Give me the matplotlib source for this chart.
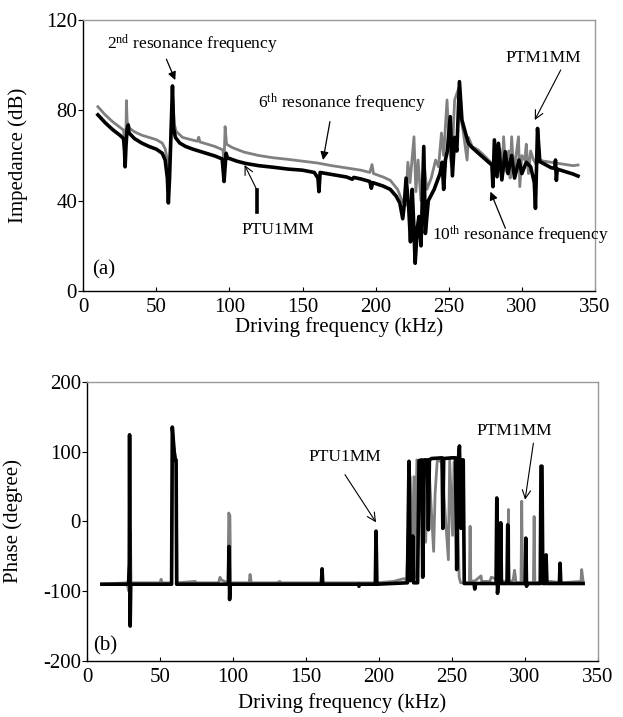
import os
os.environ.setdefault('MPLBACKEND', 'Agg')
import matplotlib.pyplot as plt
from matplotlib import rcParams

# Colours
black = "#000000"
grey = "#808080"
frame_grey = "#999999"

# Panel (a): impedance, black curve
imp_blk_f = [10, 15, 20, 25, 27.5, 28.2, 28.6, 29.2, 30.0, 30.7, 31.3, 35, 40, 45, 50, 54, 56, 57.5,
             58.2, 59, 60, 61, 61.8, 63, 66, 70, 75, 80, 85, 90, 95, 96.3, 97, 97.7, 98.5, 105, 111,
             120, 130, 140, 150, 158, 160.5, 161.2, 162, 170, 180, 184, 185, 190, 196, 197, 198, 205,
             210, 214, 216.5, 218.5, 219.5, 220.8, 222.5, 223.8, 225, 226, 227, 228.5, 229.6, 231,
             232.9, 234, 236, 240, 244, 245.5, 246.5, 247.7, 249, 251, 252.5, 254, 255.5, 257.3, 259,
             263.4, 266, 270.3, 278.2, 279.5, 280.2, 281.2, 283, 284, 286.3, 288.6, 290.5, 293, 295,
             298, 300, 303, 306, 308.5, 309.3, 310.7, 312.3, 316, 320, 322.5, 323, 323.6, 324.2, 330,
             335, 338.4]
imp_blk_db = [78, 74.5, 71.5, 69, 67.5, 62, 55, 64, 72, 73.5, 70, 67.5, 65.5, 64, 62.8, 61, 58, 50,
              39, 50, 70, 90.8, 72, 68, 65.5, 64, 62.8, 61.8, 60.8, 59.8, 58.5, 48.5, 55, 61, 59, 57.5,
              56.5, 55.5, 54.8, 54, 53.5, 52.5, 50, 44, 52.5, 51.6, 50.5, 49.5, 50.3, 49.6, 48.5, 45.5,
              48, 46.5, 45, 42, 39, 32, 38, 50, 38, 21.8, 45, 30, 12.3, 28, 33, 20, 64, 25.5, 40, 45,
              52, 57, 45, 58, 62, 77.2, 51, 68, 62, 92.7, 75.7, 65.4, 63.5, 61, 56.5, 55.8, 46.2, 66.9,
              50.6, 65.4, 49.2, 61.7, 52, 60, 50, 58, 52, 57, 55, 48, 36.6, 72, 57.3, 56, 54.6, 54.3,
              58, 49, 54, 52.8, 51.8, 50.9]

# Panel (a): impedance, grey curve
imp_gry_f = [10, 15, 20, 25, 27.5, 28, 28.6, 29.2, 29.5, 30, 31.8, 35, 40, 45, 50, 54, 56, 57.5, 58.5,
             59.5, 60.5, 61.3, 62.2, 63.6, 68, 75, 78, 79, 79.8, 85, 90, 95.5, 96.3, 97, 98, 102, 110,
             120, 130, 140, 150, 160, 170, 180, 190, 196, 197.5, 198.5, 205, 210, 215, 218, 220.5, 222,
             223.5, 226.2, 227.5, 229, 231, 233, 235, 238, 241, 243, 245, 246.5, 248.8, 250.5, 252,
             254, 256.9, 258.5, 260, 262.5, 263.5, 266, 270, 275, 278, 280, 282, 283.5, 285, 286.5,
             287.5, 289, 291, 292, 293, 294.5, 296, 297.7, 298.6, 300, 302, 303, 304.5, 306, 308, 310,
             312, 315, 320, 325, 330, 335, 338.4]
imp_gry_db = [81.6, 78, 75, 72.5, 71.3, 68, 64, 70, 84.3, 75, 72, 70.5, 69, 68, 67, 65.5, 63, 58, 55,
              62, 78, 85, 74, 70.6, 68, 66.8, 66.3, 68.1, 66, 65, 64, 62.5, 57, 72.8, 65, 63.5, 61.5,
              60, 59, 58.3, 57.5, 56.7, 55.5, 54.5, 53.5, 52.5, 56, 52, 50.5, 49, 45, 40, 38, 57, 48,
              68.3, 44, 58, 40, 57, 45, 50, 58, 55, 70, 60, 84.6, 62, 55, 84.6, 90, 76, 70, 58, 68,
              64, 62.5, 59.5, 57.5, 56, 62, 52, 63, 50, 68.3, 53, 62, 50, 68.3, 52, 60, 68.3, 46.2,
              60, 58, 65, 52, 62, 58, 56, 58, 57.5, 57, 56.5, 56, 55.5, 55.8]

# Panel (b): phase, black curve
ph_blk_f = [10, 28.3, 28.8, 29.0, 29.4, 29.8, 57.8, 58.3, 59.6, 60.4, 60.9, 61.3, 96.8, 97.2, 97.6,
            98.0, 160.5, 161, 161.5, 186, 186.3, 186.6, 197.5, 198, 198.6, 219.5, 220.6, 221.5, 222.5,
            223.2, 223.8, 226.5, 227.5, 229.3, 230, 231, 233.2, 233.9, 234.6, 236, 243.3, 243.8, 244.4,
            250, 252.5, 253.3, 254.5, 255.2, 256.3, 257.0, 257.8, 258.5, 265.2, 265.7, 266.3, 280.3,
            280.8, 281.3, 281.8, 283.1, 283.5, 284.0, 287.8, 288.3, 288.8, 300.2, 300.7, 301.2, 301.7,
            310.6, 311.1, 311.8, 312.4, 314.0, 314.6, 315.2, 323.7, 324.2, 324.7, 340]
ph_blk_deg = [-90, -90, -60, 124, -150, -90, -90, 135, 100, 88, 88, -90, -90, -36, -112, -90, -90,
              -68, -90, -90, -93, -90, -90, -14, -90, -88, 86, -85, -80, -21, -88, -88, 87, 88, -80,
              88, 88, -12, 88, 90, 91, -10, 90, 91, 91, -69, 90, 108, -10, 88, 88, -89, -89, -97,
              -89, -89, 33.5, -103, -89, -89, -2, -89, -89, -5, -89, -89, -24, -93, -89, -89, 79, 79,
              -89, -89, -48, -89, -89, -60, -89, -89]

# Panel (b): phase, grey curve
ph_gry_f = [10, 27, 28.5, 29.6, 30, 50, 50.6, 51.2, 57.8, 58.5, 61, 61.5, 74, 75, 90, 91, 92, 96.5,
            97, 97.8, 98.3, 111, 111.6, 112.5, 130, 132, 133, 160, 198, 210, 217, 219, 221.5, 222.5,
            224, 225, 226, 229, 230.5, 232, 234, 237.5, 238.5, 240, 243, 247.6, 248.5, 250.5, 251.5,
            253, 255, 256, 262, 262.5, 263, 266, 270, 270.5, 276, 277, 288.3, 288.8, 289.3, 292, 293,
            294, 297.4, 297.9, 298.4, 305.9, 306.4, 306.9, 318, 325, 338.5, 339, 340]
ph_gry_deg = [-90, -88, -100, -15, -88, -88, -83, -88, -88, 120, 80, -88, -86, -88, -88, -80, -84, -88,
              12, 8, -88, -88, -76, -88, -88, -86, -88, -88, -88, -86, -82, -84, 64, -60, 64, -80, 88,
              50, 88, -30, 88, -43, 40, 88, 85, -55, 88, -20, 85, 80, -80, -88, -88, -7, -86, -85,
              -78, -86, -86, -80, -88, 17, -88, -84, -70, -88, -88, 29, -88, -88, 7, -88, -86, -88,
              -86, -69, -86]

rcParams.update({
    "font.family": "Liberation Serif",
    "font.size": 15,
    "mathtext.fontset": "custom",
    "mathtext.rm": "Liberation Serif",
    "mathtext.it": "Liberation Serif:italic",
    "axes.unicode_minus": False,
    "axes.linewidth": 1.0,
    "xtick.direction": "in",
    "ytick.direction": "out",
    "xtick.major.size": 3,
    "ytick.major.size": 3.5,
})


def style_frame(ax):
    """Black left/bottom, light grey top/right like the original figure."""
    ax.spines["top"].set_color(frame_grey)
    ax.spines["right"].set_color(frame_grey)
    ax.tick_params(axis="y", pad=1)
    ax.tick_params(axis="x", pad=5)


fig = plt.figure(figsize=(6.23, 7.17), dpi=100)

# ---- (a) impedance ----
ax1 = fig.add_axes([0.1337, 0.5941, 0.8213, 0.378])
ax1.plot(imp_gry_f, imp_gry_db, color=grey, lw=2.0)
ax1.plot(imp_blk_f, imp_blk_db, color=black, lw=2.6)
ax1.set_xlim(0, 350)
ax1.set_ylim(0, 120)
ax1.set_xticks(range(0, 351, 50))
ax1.set_yticks(range(0, 121, 40))
ax1.set_xlabel("Driving frequency (kHz)")
ax1.set_ylabel("Impedance (dB)")
ax1.xaxis.set_label_coords(0.5, -0.095)
ax1.yaxis.set_label_coords(-0.108, 0.5)
style_frame(ax1)

ann = dict(fontsize=12.5)
ax1.annotate(r"2$^{\mathrm{nd}}$ resonance frequency", xy=(62.9, 93.4), xytext=(16.3, 109),
             va="center", ha="left", **ann,
             arrowprops=dict(arrowstyle="-|>", color=black, lw=0.9, mutation_scale=12,
                             shrinkA=0, shrinkB=0, relpos=(0.34, 0)))
ax1.text(119.2, 83.1, r"6$^{\mathrm{th}}$ resonance frequency", va="center", ha="left", **ann)
ax1.annotate("", xy=(164, 58), xytext=(168.7, 75),
             arrowprops=dict(arrowstyle="-|>", color=black, lw=0.9, mutation_scale=12,
                             shrinkA=0, shrinkB=0))
ax1.text(132.8, 27, "PTU1MM", va="center", ha="center", **ann)
ax1.annotate("", xy=(110.3, 55.8), xytext=(118.8, 44.7),
             arrowprops=dict(arrowstyle="->", color=black, lw=0.8, shrinkA=0, shrinkB=0))
ax1.plot([118.8, 118.8], [44.7, 35], color=black, lw=2.6)
ax1.text(314.5, 103, "PTM1MM", va="center", ha="center", **ann)
ax1.annotate("", xy=(308.8, 75.7), xytext=(326.6, 97.9),
             arrowprops=dict(arrowstyle="->", color=black, lw=0.8, shrinkA=0, shrinkB=0))
ax1.text(238.4, 24.8, r"10$^{\mathrm{th}}$ resonance frequency", va="center", ha="left",
         clip_on=False, **ann)
ax1.annotate("", xy=(278.5, 44), xytext=(288.7, 27.8),
             arrowprops=dict(arrowstyle="-|>", color=black, lw=0.9, mutation_scale=12,
                             shrinkA=0, shrinkB=0))
ax1.text(6.1, 9.3, "(a)", va="center", ha="left", fontsize=15)

# ---- (b) phase ----
ax2 = fig.add_axes([0.1401, 0.0781, 0.8193, 0.3895])
ax2.plot(ph_gry_f, ph_gry_deg, color=grey, lw=2.0)
ax2.plot(ph_blk_f, ph_blk_deg, color=black, lw=2.6)
ax2.set_xlim(0, 350)
ax2.set_ylim(-200, 200)
ax2.set_xticks(range(0, 351, 50))
ax2.set_yticks(range(-200, 201, 100))
ax2.set_xlabel("Driving frequency (kHz)")
ax2.set_ylabel("Phase (degree)")
ax2.xaxis.set_label_coords(0.5, -0.115)
ax2.yaxis.set_label_coords(-0.126, 0.5)
style_frame(ax2)

ax2.text(176.7, 91.7, "PTU1MM", va="center", ha="center", **ann)
ax2.annotate("", xy=(198, -1.4), xytext=(176.7, 66.9),
             arrowprops=dict(arrowstyle="->", color=black, lw=0.8, shrinkA=0, shrinkB=0))
ax2.text(292.5, 129, "PTM1MM", va="center", ha="center", **ann)
ax2.annotate("", xy=(300.2, 31), xytext=(305.9, 112),
             arrowprops=dict(arrowstyle="->", color=black, lw=0.8, shrinkA=0, shrinkB=0))
ax2.text(4.1, -179, "(b)", va="center", ha="left", fontsize=15)

fig.savefig("out.png", dpi=100)
